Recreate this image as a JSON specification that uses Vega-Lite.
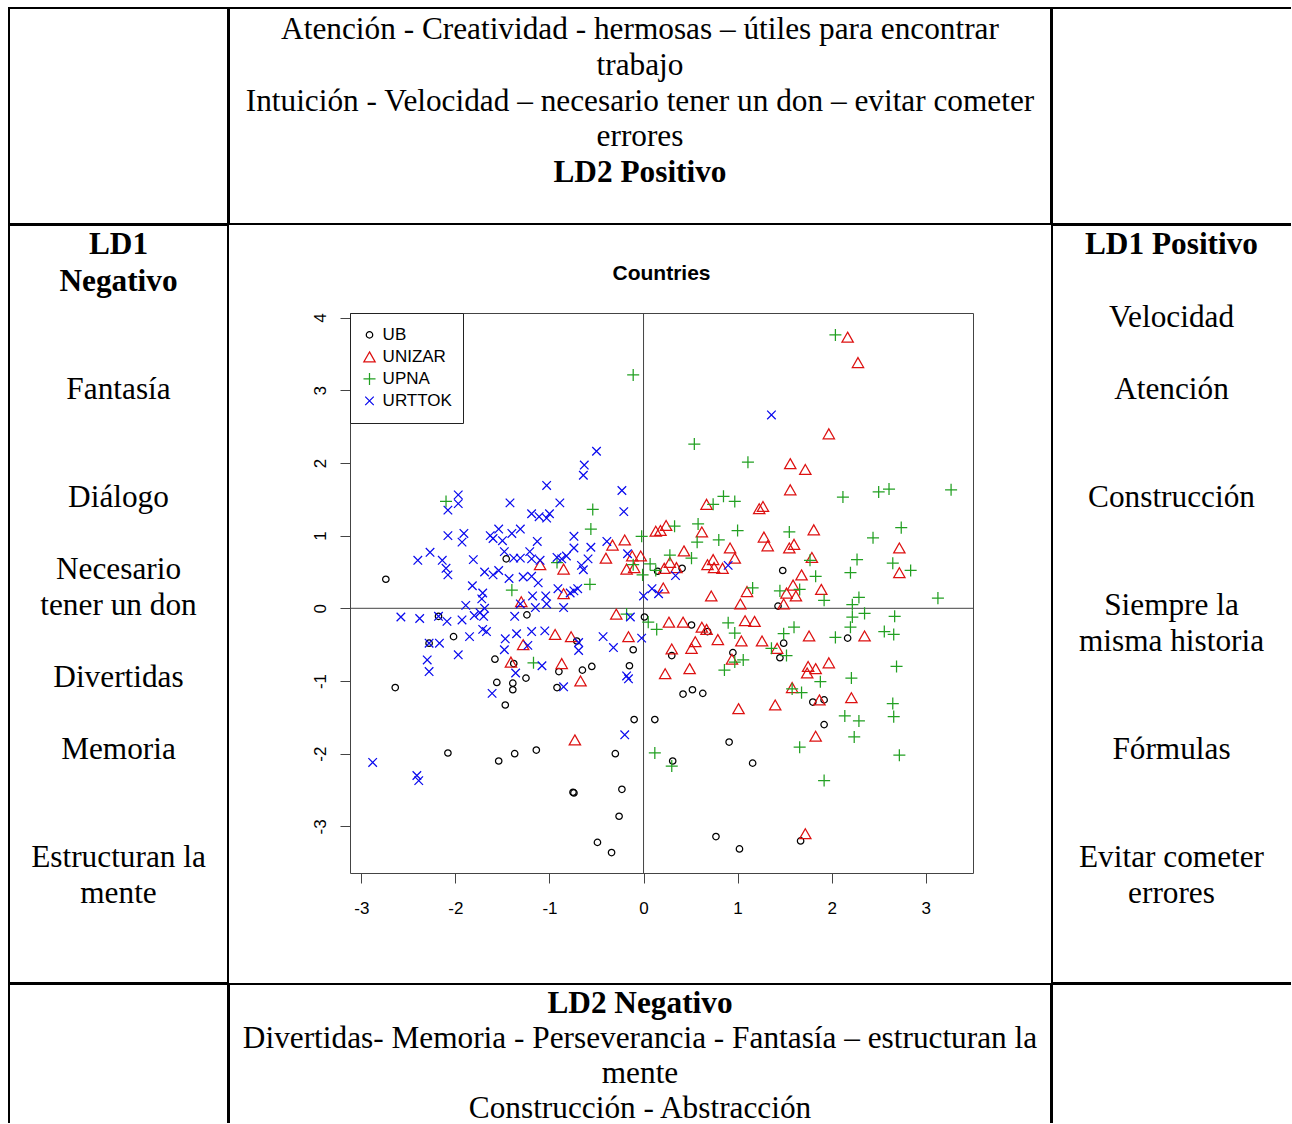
{
"$schema": "https://vega.github.io/schema/vega-lite/v6.json",
"background": "white",
"padding": {"left": 8, "top": 7, "right": 0, "bottom": 0},
"config": {"font": "Liberation Sans", "view": {"stroke": null}},
"datasets": {
"topText": [
{"line":0,"text":"Atención - Creatividad - hermosas – útiles para encontrar","kind":"body"},
{"line":1,"text":"trabajo","kind":"body"},
{"line":2,"text":"Intuición - Velocidad – necesario tener un don – evitar cometer","kind":"body"},
{"line":3,"text":"errores","kind":"body"},
{"line":4,"text":"LD2 Positivo","kind":"heading"}],
"leftText": [
{"line":0,"text":"LD1","kind":"heading"},
{"line":1,"text":"Negativo","kind":"heading"},
{"line":4,"text":"Fantasía","kind":"body"},
{"line":7,"text":"Diálogo","kind":"body"},
{"line":9,"text":"Necesario","kind":"body"},
{"line":10,"text":"tener un don","kind":"body"},
{"line":12,"text":"Divertidas","kind":"body"},
{"line":14,"text":"Memoria","kind":"body"},
{"line":17,"text":"Estructuran la","kind":"body"},
{"line":18,"text":"mente","kind":"body"}],
"rightText": [
{"line":0,"text":"LD1 Positivo","kind":"heading"},
{"line":2,"text":"Velocidad","kind":"body"},
{"line":4,"text":"Atención","kind":"body"},
{"line":7,"text":"Construcción","kind":"body"},
{"line":10,"text":"Siempre la","kind":"body"},
{"line":11,"text":"misma historia","kind":"body"},
{"line":14,"text":"Fórmulas","kind":"body"},
{"line":17,"text":"Evitar cometer","kind":"body"},
{"line":18,"text":"errores","kind":"body"}],
"bottomText": [
{"line":0,"text":"LD2 Negativo","kind":"heading"},
{"line":1,"text":"Divertidas- Memoria - Perseverancia - Fantasía – estructuran la","kind":"body"},
{"line":2,"text":"mente","kind":"body"},
{"line":3,"text":"Construcción - Abstracción","kind":"body"}],
"points": [
{"Country":"UB","LD1":-1.46,"LD2":0.68},{"Country":"UB","LD1":-2.74,"LD2":0.40},{"Country":"UB","LD1":-2.18,"LD2":-0.11},{"Country":"UB","LD1":-1.24,"LD2":-0.09},
{"Country":"UB","LD1":-2.02,"LD2":-0.39},{"Country":"UB","LD1":-2.28,"LD2":-0.48},{"Country":"UB","LD1":-1.58,"LD2":-0.70},{"Country":"UB","LD1":-1.38,"LD2":-0.76},
{"Country":"UB","LD1":-1.25,"LD2":-0.96},{"Country":"UB","LD1":-1.56,"LD2":-1.02},{"Country":"UB","LD1":-1.39,"LD2":-1.03},{"Country":"UB","LD1":0.15,"LD2":0.51},
{"Country":"UB","LD1":0.41,"LD2":0.55},{"Country":"UB","LD1":0.01,"LD2":-0.12},{"Country":"UB","LD1":0.51,"LD2":-0.23},{"Country":"UB","LD1":0.68,"LD2":-0.32},
{"Country":"UB","LD1":-0.71,"LD2":-0.45},{"Country":"UB","LD1":-0.11,"LD2":-0.57},{"Country":"UB","LD1":0.30,"LD2":-0.65},{"Country":"UB","LD1":0.95,"LD2":-0.61},
{"Country":"UB","LD1":-0.90,"LD2":-0.87},{"Country":"UB","LD1":-0.65,"LD2":-0.85},{"Country":"UB","LD1":-0.55,"LD2":-0.80},{"Country":"UB","LD1":-0.15,"LD2":-0.79},
{"Country":"UB","LD1":1.48,"LD2":0.52},{"Country":"UB","LD1":1.43,"LD2":0.03},{"Country":"UB","LD1":2.17,"LD2":-0.41},{"Country":"UB","LD1":1.49,"LD2":-0.48},
{"Country":"UB","LD1":1.45,"LD2":-0.68},{"Country":"UB","LD1":-2.64,"LD2":-1.09},{"Country":"UB","LD1":-1.39,"LD2":-1.12},{"Country":"UB","LD1":-1.47,"LD2":-1.33},
{"Country":"UB","LD1":-2.08,"LD2":-1.99},{"Country":"UB","LD1":-1.54,"LD2":-2.10},{"Country":"UB","LD1":-1.37,"LD2":-2.00},{"Country":"UB","LD1":-1.14,"LD2":-1.95},
{"Country":"UB","LD1":-0.92,"LD2":-1.09},{"Country":"UB","LD1":0.42,"LD2":-1.18},{"Country":"UB","LD1":0.52,"LD2":-1.12},{"Country":"UB","LD1":0.63,"LD2":-1.17},
{"Country":"UB","LD1":-0.10,"LD2":-1.53},{"Country":"UB","LD1":0.12,"LD2":-1.53},{"Country":"UB","LD1":-0.30,"LD2":-2.00},{"Country":"UB","LD1":0.31,"LD2":-2.10},
{"Country":"UB","LD1":0.91,"LD2":-1.84},{"Country":"UB","LD1":1.16,"LD2":-2.13},{"Country":"UB","LD1":-0.75,"LD2":-2.53},{"Country":"UB","LD1":-0.74,"LD2":-2.54},
{"Country":"UB","LD1":-0.23,"LD2":-2.49},{"Country":"UB","LD1":-0.26,"LD2":-2.86},{"Country":"UB","LD1":-0.49,"LD2":-3.22},{"Country":"UB","LD1":-0.34,"LD2":-3.36},
{"Country":"UB","LD1":0.77,"LD2":-3.14},{"Country":"UB","LD1":1.02,"LD2":-3.31},{"Country":"UB","LD1":1.80,"LD2":-1.29},{"Country":"UB","LD1":1.92,"LD2":-1.26},
{"Country":"UB","LD1":1.92,"LD2":-1.60},{"Country":"UB","LD1":1.67,"LD2":-3.20},
{"Country":"UNIZAR","LD1":2.17,"LD2":3.73},{"Country":"UNIZAR","LD1":2.28,"LD2":3.38},{"Country":"UNIZAR","LD1":1.97,"LD2":2.40},{"Country":"UNIZAR","LD1":1.56,"LD2":1.99},
{"Country":"UNIZAR","LD1":1.72,"LD2":1.91},{"Country":"UNIZAR","LD1":1.56,"LD2":1.63},{"Country":"UNIZAR","LD1":-1.10,"LD2":0.60},{"Country":"UNIZAR","LD1":-1.30,"LD2":0.09},
{"Country":"UNIZAR","LD1":-0.94,"LD2":-0.36},{"Country":"UNIZAR","LD1":-1.28,"LD2":-0.50},{"Country":"UNIZAR","LD1":-1.41,"LD2":-0.74},{"Country":"UNIZAR","LD1":0.67,"LD2":1.43},
{"Country":"UNIZAR","LD1":1.23,"LD2":1.37},{"Country":"UNIZAR","LD1":-0.33,"LD2":0.87},{"Country":"UNIZAR","LD1":-0.20,"LD2":0.94},{"Country":"UNIZAR","LD1":0.13,"LD2":1.06},
{"Country":"UNIZAR","LD1":0.18,"LD2":1.07},{"Country":"UNIZAR","LD1":0.24,"LD2":1.14},{"Country":"UNIZAR","LD1":0.62,"LD2":1.05},{"Country":"UNIZAR","LD1":0.92,"LD2":0.83},
{"Country":"UNIZAR","LD1":0.97,"LD2":0.69},{"Country":"UNIZAR","LD1":-0.85,"LD2":0.54},{"Country":"UNIZAR","LD1":-0.40,"LD2":0.69},{"Country":"UNIZAR","LD1":-0.18,"LD2":0.54},
{"Country":"UNIZAR","LD1":-0.12,"LD2":0.72},{"Country":"UNIZAR","LD1":-0.03,"LD2":0.72},{"Country":"UNIZAR","LD1":-0.10,"LD2":0.56},{"Country":"UNIZAR","LD1":0.22,"LD2":0.55},
{"Country":"UNIZAR","LD1":0.28,"LD2":0.63},{"Country":"UNIZAR","LD1":0.35,"LD2":0.56},{"Country":"UNIZAR","LD1":0.43,"LD2":0.79},{"Country":"UNIZAR","LD1":0.68,"LD2":0.60},
{"Country":"UNIZAR","LD1":0.74,"LD2":0.67},{"Country":"UNIZAR","LD1":0.75,"LD2":0.56},{"Country":"UNIZAR","LD1":0.84,"LD2":0.55},{"Country":"UNIZAR","LD1":-0.85,"LD2":0.20},
{"Country":"UNIZAR","LD1":0.21,"LD2":0.28},{"Country":"UNIZAR","LD1":0.72,"LD2":0.17},{"Country":"UNIZAR","LD1":1.03,"LD2":0.06},{"Country":"UNIZAR","LD1":1.10,"LD2":0.23},
{"Country":"UNIZAR","LD1":-0.29,"LD2":-0.08},{"Country":"UNIZAR","LD1":0.27,"LD2":-0.19},{"Country":"UNIZAR","LD1":0.42,"LD2":-0.19},{"Country":"UNIZAR","LD1":0.62,"LD2":-0.26},
{"Country":"UNIZAR","LD1":0.67,"LD2":-0.29},{"Country":"UNIZAR","LD1":1.08,"LD2":-0.17},{"Country":"UNIZAR","LD1":1.18,"LD2":-0.18},{"Country":"UNIZAR","LD1":0.79,"LD2":-0.43},
{"Country":"UNIZAR","LD1":0.55,"LD2":-0.46},{"Country":"UNIZAR","LD1":0.51,"LD2":-0.55},{"Country":"UNIZAR","LD1":1.04,"LD2":-0.45},{"Country":"UNIZAR","LD1":1.26,"LD2":-0.45},
{"Country":"UNIZAR","LD1":-0.16,"LD2":-0.39},{"Country":"UNIZAR","LD1":-0.77,"LD2":-0.39},{"Country":"UNIZAR","LD1":0.30,"LD2":-0.56},{"Country":"UNIZAR","LD1":0.94,"LD2":-0.70},
{"Country":"UNIZAR","LD1":0.49,"LD2":-0.83},{"Country":"UNIZAR","LD1":0.23,"LD2":-0.90},{"Country":"UNIZAR","LD1":-0.87,"LD2":-0.76},{"Country":"UNIZAR","LD1":-0.67,"LD2":-1.00},
{"Country":"UNIZAR","LD1":1.27,"LD2":1.40},{"Country":"UNIZAR","LD1":1.81,"LD2":1.08},{"Country":"UNIZAR","LD1":1.28,"LD2":0.98},{"Country":"UNIZAR","LD1":1.32,"LD2":0.86},
{"Country":"UNIZAR","LD1":1.55,"LD2":0.83},{"Country":"UNIZAR","LD1":1.60,"LD2":0.88},{"Country":"UNIZAR","LD1":2.72,"LD2":0.83},{"Country":"UNIZAR","LD1":1.79,"LD2":0.70},
{"Country":"UNIZAR","LD1":2.72,"LD2":0.49},{"Country":"UNIZAR","LD1":1.68,"LD2":0.46},{"Country":"UNIZAR","LD1":1.59,"LD2":0.32},{"Country":"UNIZAR","LD1":1.89,"LD2":0.26},
{"Country":"UNIZAR","LD1":1.52,"LD2":0.21},{"Country":"UNIZAR","LD1":1.62,"LD2":0.17},{"Country":"UNIZAR","LD1":1.49,"LD2":0.06},{"Country":"UNIZAR","LD1":1.76,"LD2":-0.38},
{"Country":"UNIZAR","LD1":2.35,"LD2":-0.38},{"Country":"UNIZAR","LD1":1.42,"LD2":-0.55},{"Country":"UNIZAR","LD1":1.97,"LD2":-0.75},{"Country":"UNIZAR","LD1":1.75,"LD2":-0.80},
{"Country":"UNIZAR","LD1":1.83,"LD2":-0.83},{"Country":"UNIZAR","LD1":1.74,"LD2":-0.89},{"Country":"UNIZAR","LD1":1.01,"LD2":-1.38},{"Country":"UNIZAR","LD1":-0.73,"LD2":-1.81},
{"Country":"UNIZAR","LD1":1.58,"LD2":-1.09},{"Country":"UNIZAR","LD1":1.40,"LD2":-1.33},{"Country":"UNIZAR","LD1":1.87,"LD2":-1.26},{"Country":"UNIZAR","LD1":2.21,"LD2":-1.23},
{"Country":"UNIZAR","LD1":1.83,"LD2":-1.76},{"Country":"UNIZAR","LD1":1.72,"LD2":-3.10},
{"Country":"UPNA","LD1":-0.11,"LD2":3.21},{"Country":"UPNA","LD1":0.54,"LD2":2.26},{"Country":"UPNA","LD1":1.11,"LD2":2.01},{"Country":"UPNA","LD1":0.85,"LD2":1.54},
{"Country":"UPNA","LD1":2.04,"LD2":3.76},{"Country":"UPNA","LD1":2.12,"LD2":1.53},{"Country":"UPNA","LD1":2.50,"LD2":1.60},{"Country":"UPNA","LD1":2.61,"LD2":1.64},
{"Country":"UPNA","LD1":3.27,"LD2":1.63},{"Country":"UPNA","LD1":-2.10,"LD2":1.47},{"Country":"UPNA","LD1":-1.40,"LD2":0.25},{"Country":"UPNA","LD1":-1.17,"LD2":-0.75},
{"Country":"UPNA","LD1":-0.54,"LD2":1.36},{"Country":"UPNA","LD1":0.74,"LD2":1.43},{"Country":"UPNA","LD1":0.97,"LD2":1.47},{"Country":"UPNA","LD1":-0.56,"LD2":1.09},
{"Country":"UPNA","LD1":-0.02,"LD2":0.99},{"Country":"UPNA","LD1":0.33,"LD2":1.13},{"Country":"UPNA","LD1":0.58,"LD2":1.16},{"Country":"UPNA","LD1":0.57,"LD2":0.91},
{"Country":"UPNA","LD1":0.80,"LD2":0.94},{"Country":"UPNA","LD1":1.00,"LD2":1.07},{"Country":"UPNA","LD1":-0.92,"LD2":0.63},{"Country":"UPNA","LD1":-0.11,"LD2":0.60},
{"Country":"UPNA","LD1":-0.01,"LD2":0.46},{"Country":"UPNA","LD1":0.07,"LD2":0.61},{"Country":"UPNA","LD1":0.13,"LD2":0.52},{"Country":"UPNA","LD1":0.28,"LD2":0.73},
{"Country":"UPNA","LD1":0.51,"LD2":0.69},{"Country":"UPNA","LD1":-0.57,"LD2":0.33},{"Country":"UPNA","LD1":1.16,"LD2":0.28},{"Country":"UPNA","LD1":-0.18,"LD2":-0.08},
{"Country":"UPNA","LD1":0.05,"LD2":-0.19},{"Country":"UPNA","LD1":0.14,"LD2":-0.29},{"Country":"UPNA","LD1":0.90,"LD2":-0.20},{"Country":"UPNA","LD1":0.97,"LD2":-0.34},
{"Country":"UPNA","LD1":0.97,"LD2":-0.74},{"Country":"UPNA","LD1":1.06,"LD2":-0.71},{"Country":"UPNA","LD1":0.86,"LD2":-0.85},{"Country":"UPNA","LD1":1.55,"LD2":1.05},
{"Country":"UPNA","LD1":2.74,"LD2":1.11},{"Country":"UPNA","LD1":2.44,"LD2":0.97},{"Country":"UPNA","LD1":1.77,"LD2":0.66},{"Country":"UPNA","LD1":2.27,"LD2":0.67},
{"Country":"UPNA","LD1":2.65,"LD2":0.62},{"Country":"UPNA","LD1":2.84,"LD2":0.52},{"Country":"UPNA","LD1":1.83,"LD2":0.44},{"Country":"UPNA","LD1":2.20,"LD2":0.49},
{"Country":"UPNA","LD1":1.66,"LD2":0.26},{"Country":"UPNA","LD1":1.45,"LD2":0.24},{"Country":"UPNA","LD1":1.92,"LD2":0.11},{"Country":"UPNA","LD1":2.29,"LD2":0.15},
{"Country":"UPNA","LD1":2.22,"LD2":0.05},{"Country":"UPNA","LD1":3.13,"LD2":0.14},{"Country":"UPNA","LD1":2.35,"LD2":-0.07},{"Country":"UPNA","LD1":2.22,"LD2":-0.12},
{"Country":"UPNA","LD1":2.67,"LD2":-0.11},{"Country":"UPNA","LD1":1.60,"LD2":-0.26},{"Country":"UPNA","LD1":2.20,"LD2":-0.26},{"Country":"UPNA","LD1":1.49,"LD2":-0.35},
{"Country":"UPNA","LD1":2.04,"LD2":-0.40},{"Country":"UPNA","LD1":2.56,"LD2":-0.32},{"Country":"UPNA","LD1":2.66,"LD2":-0.36},{"Country":"UPNA","LD1":1.36,"LD2":-0.55},
{"Country":"UPNA","LD1":1.52,"LD2":-0.65},{"Country":"UPNA","LD1":2.69,"LD2":-0.80},{"Country":"UPNA","LD1":2.21,"LD2":-0.96},{"Country":"UPNA","LD1":1.88,"LD2":-1.01},
{"Country":"UPNA","LD1":0.12,"LD2":-1.99},{"Country":"UPNA","LD1":0.30,"LD2":-2.17},{"Country":"UPNA","LD1":1.58,"LD2":-1.11},{"Country":"UPNA","LD1":1.68,"LD2":-1.16},
{"Country":"UPNA","LD1":2.65,"LD2":-1.31},{"Country":"UPNA","LD1":2.66,"LD2":-1.49},{"Country":"UPNA","LD1":2.14,"LD2":-1.48},{"Country":"UPNA","LD1":2.29,"LD2":-1.55},
{"Country":"UPNA","LD1":2.24,"LD2":-1.77},{"Country":"UPNA","LD1":1.66,"LD2":-1.91},{"Country":"UPNA","LD1":2.72,"LD2":-2.02},{"Country":"UPNA","LD1":1.92,"LD2":-2.37},
{"Country":"URTTOK","LD1":-1.03,"LD2":1.69},{"Country":"URTTOK","LD1":-1.97,"LD2":1.56},{"Country":"URTTOK","LD1":-0.50,"LD2":2.16},{"Country":"URTTOK","LD1":-0.63,"LD2":1.97},
{"Country":"URTTOK","LD1":-0.64,"LD2":1.83},{"Country":"URTTOK","LD1":-0.23,"LD2":1.62},{"Country":"URTTOK","LD1":1.36,"LD2":2.66},{"Country":"URTTOK","LD1":-1.97,"LD2":1.44},
{"Country":"URTTOK","LD1":-2.08,"LD2":1.35},{"Country":"URTTOK","LD1":-1.42,"LD2":1.45},{"Country":"URTTOK","LD1":-1.19,"LD2":1.30},{"Country":"URTTOK","LD1":-1.11,"LD2":1.26},
{"Country":"URTTOK","LD1":-1.03,"LD2":1.24},{"Country":"URTTOK","LD1":-1.00,"LD2":1.30},{"Country":"URTTOK","LD1":-2.08,"LD2":1.00},{"Country":"URTTOK","LD1":-1.91,"LD2":1.03},
{"Country":"URTTOK","LD1":-1.93,"LD2":0.91},{"Country":"URTTOK","LD1":-1.63,"LD2":1.00},{"Country":"URTTOK","LD1":-1.60,"LD2":0.96},{"Country":"URTTOK","LD1":-1.54,"LD2":1.09},
{"Country":"URTTOK","LD1":-1.50,"LD2":0.93},{"Country":"URTTOK","LD1":-1.40,"LD2":1.03},{"Country":"URTTOK","LD1":-1.31,"LD2":1.09},{"Country":"URTTOK","LD1":-1.13,"LD2":0.92},
{"Country":"URTTOK","LD1":-2.40,"LD2":0.66},{"Country":"URTTOK","LD1":-2.27,"LD2":0.77},{"Country":"URTTOK","LD1":-2.14,"LD2":0.66},{"Country":"URTTOK","LD1":-2.10,"LD2":0.55},
{"Country":"URTTOK","LD1":-2.08,"LD2":0.46},{"Country":"URTTOK","LD1":-1.81,"LD2":0.67},{"Country":"URTTOK","LD1":-1.48,"LD2":0.78},{"Country":"URTTOK","LD1":-1.38,"LD2":0.69},
{"Country":"URTTOK","LD1":-1.31,"LD2":0.69},{"Country":"URTTOK","LD1":-1.21,"LD2":0.78},{"Country":"URTTOK","LD1":-1.19,"LD2":0.68},{"Country":"URTTOK","LD1":-1.10,"LD2":0.66},
{"Country":"URTTOK","LD1":-1.69,"LD2":0.50},{"Country":"URTTOK","LD1":-1.60,"LD2":0.46},{"Country":"URTTOK","LD1":-1.54,"LD2":0.52},{"Country":"URTTOK","LD1":-1.43,"LD2":0.41},
{"Country":"URTTOK","LD1":-1.28,"LD2":0.43},{"Country":"URTTOK","LD1":-1.19,"LD2":0.44},{"Country":"URTTOK","LD1":-1.12,"LD2":0.35},{"Country":"URTTOK","LD1":-1.82,"LD2":0.31},
{"Country":"URTTOK","LD1":-1.71,"LD2":0.21},{"Country":"URTTOK","LD1":-1.72,"LD2":0.13},{"Country":"URTTOK","LD1":-1.31,"LD2":0.06},{"Country":"URTTOK","LD1":-1.18,"LD2":0.17},
{"Country":"URTTOK","LD1":-1.04,"LD2":0.17},{"Country":"URTTOK","LD1":-1.03,"LD2":0.06},{"Country":"URTTOK","LD1":-1.15,"LD2":0.01},{"Country":"URTTOK","LD1":-1.89,"LD2":0.04},
{"Country":"URTTOK","LD1":-1.80,"LD2":-0.10},{"Country":"URTTOK","LD1":-1.74,"LD2":-0.06},{"Country":"URTTOK","LD1":-1.69,"LD2":0.00},{"Country":"URTTOK","LD1":-1.70,"LD2":-0.11},
{"Country":"URTTOK","LD1":-2.58,"LD2":-0.12},{"Country":"URTTOK","LD1":-2.38,"LD2":-0.14},{"Country":"URTTOK","LD1":-2.18,"LD2":-0.11},{"Country":"URTTOK","LD1":-2.09,"LD2":-0.18},
{"Country":"URTTOK","LD1":-1.93,"LD2":-0.16},{"Country":"URTTOK","LD1":-1.37,"LD2":-0.11},{"Country":"URTTOK","LD1":-1.85,"LD2":-0.39},{"Country":"URTTOK","LD1":-1.71,"LD2":-0.29},
{"Country":"URTTOK","LD1":-1.67,"LD2":-0.32},{"Country":"URTTOK","LD1":-1.35,"LD2":-0.35},{"Country":"URTTOK","LD1":-1.19,"LD2":-0.32},{"Country":"URTTOK","LD1":-1.05,"LD2":-0.31},
{"Country":"URTTOK","LD1":-2.28,"LD2":-0.48},{"Country":"URTTOK","LD1":-2.17,"LD2":-0.48},{"Country":"URTTOK","LD1":-1.47,"LD2":-0.42},{"Country":"URTTOK","LD1":-1.48,"LD2":-0.57},
{"Country":"URTTOK","LD1":-1.23,"LD2":-0.51},{"Country":"URTTOK","LD1":-1.97,"LD2":-0.64},{"Country":"URTTOK","LD1":-1.08,"LD2":-0.79},{"Country":"URTTOK","LD1":-2.30,"LD2":-0.71},
{"Country":"URTTOK","LD1":-2.28,"LD2":-0.87},{"Country":"URTTOK","LD1":-1.36,"LD2":-0.89},{"Country":"URTTOK","LD1":-0.89,"LD2":1.45},{"Country":"URTTOK","LD1":-0.21,"LD2":1.33},
{"Country":"URTTOK","LD1":-0.74,"LD2":0.99},{"Country":"URTTOK","LD1":-0.74,"LD2":0.83},{"Country":"URTTOK","LD1":-0.56,"LD2":0.84},{"Country":"URTTOK","LD1":-0.39,"LD2":0.92},
{"Country":"URTTOK","LD1":-0.92,"LD2":0.70},{"Country":"URTTOK","LD1":-0.87,"LD2":0.68},{"Country":"URTTOK","LD1":-0.82,"LD2":0.72},{"Country":"URTTOK","LD1":-0.59,"LD2":0.68},
{"Country":"URTTOK","LD1":-0.66,"LD2":0.59},{"Country":"URTTOK","LD1":-0.64,"LD2":0.53},{"Country":"URTTOK","LD1":-0.17,"LD2":0.75},{"Country":"URTTOK","LD1":0.34,"LD2":0.45},
{"Country":"URTTOK","LD1":0.90,"LD2":0.59},{"Country":"URTTOK","LD1":-0.91,"LD2":0.27},{"Country":"URTTOK","LD1":-0.78,"LD2":0.21},{"Country":"URTTOK","LD1":-0.74,"LD2":0.24},
{"Country":"URTTOK","LD1":-0.70,"LD2":0.27},{"Country":"URTTOK","LD1":-0.85,"LD2":0.01},{"Country":"URTTOK","LD1":0.00,"LD2":0.17},{"Country":"URTTOK","LD1":0.09,"LD2":0.27},
{"Country":"URTTOK","LD1":0.16,"LD2":0.20},{"Country":"URTTOK","LD1":-0.14,"LD2":-0.12},{"Country":"URTTOK","LD1":-0.43,"LD2":-0.39},{"Country":"URTTOK","LD1":-0.32,"LD2":-0.54},
{"Country":"URTTOK","LD1":-0.02,"LD2":-0.41},{"Country":"URTTOK","LD1":-0.69,"LD2":-0.47},{"Country":"URTTOK","LD1":-0.69,"LD2":-0.58},{"Country":"URTTOK","LD1":-0.18,"LD2":-0.93},
{"Country":"URTTOK","LD1":-0.16,"LD2":-0.97},{"Country":"URTTOK","LD1":-1.61,"LD2":-1.17},{"Country":"URTTOK","LD1":-2.88,"LD2":-2.12},{"Country":"URTTOK","LD1":-2.41,"LD2":-2.30},
{"Country":"URTTOK","LD1":-2.39,"LD2":-2.37},{"Country":"URTTOK","LD1":-0.85,"LD2":-1.08},{"Country":"URTTOK","LD1":-0.20,"LD2":-1.74}
]
},
"spacing": -4,
"resolve": {"scale": {"color": "independent", "shape": "independent"}, "legend": {"color": "independent", "shape": "independent"}},
"vconcat": [
{"hconcat": [
 {"width": 219, "height": 216, "data": {"values": []}, "mark": "text", "view": {"stroke": "black", "strokeWidth": 2}},
 {"width": 822, "height": 216, "view": {"stroke": "black", "strokeWidth": 2},
  "data": {"name": "topText"},
  "encoding": {"y": {"field": "line", "type": "quantitative", "scale": {"domain": [-0.866, 5.168], "reverse": true}, "axis": null}, "text": {"field": "text"}},
  "layer": [
   {"transform": [{"filter": "datum.kind === 'body'"}], "mark": {"type": "text", "font": "Liberation Serif", "fontSize": 31.3, "baseline": "alphabetic", "color": "black"}},
   {"transform": [{"filter": "datum.kind === 'heading'"}], "mark": {"type": "text", "font": "Liberation Serif", "fontSize": 31.3, "fontWeight": "bold", "baseline": "alphabetic", "color": "black"}}
  ]},
 {"width": 239, "height": 216, "data": {"values": []}, "mark": "text", "view": {"stroke": "black", "strokeWidth": 2, "strokeDash": [239, 216, 455]}}
], "spacing": -4},
{"hconcat": [
 {"width": 219, "height": 758, "view": {"stroke": "black", "strokeWidth": 2},
  "data": {"name": "leftText"},
  "encoding": {"y": {"field": "line", "type": "quantitative", "scale": {"domain": [-0.818, 20.208], "reverse": true}, "axis": null}, "text": {"field": "text"}},
  "layer": [
   {"transform": [{"filter": "datum.kind === 'body'"}], "mark": {"type": "text", "font": "Liberation Serif", "fontSize": 31.3, "baseline": "alphabetic", "color": "black"}},
   {"transform": [{"filter": "datum.kind === 'heading'"}], "mark": {"type": "text", "font": "Liberation Serif", "fontSize": 31.3, "fontWeight": "bold", "baseline": "alphabetic", "color": "black"}}
  ]},
 {"vconcat": [
   {"width": 823, "height": 37, "data": {"values": []}, "mark": "point"},
   {"hconcat": [
     {"width": 81, "height": 1, "data": {"values": []}, "mark": "point"},
     {"width": 623, "height": 560,
      "view": {"stroke": "#444444", "strokeWidth": 1},
      "title": {"text": "Countries", "font": "Liberation Sans", "fontSize": 21, "fontWeight": "bold", "color": "black", "anchor": "middle", "baseline": "alphabetic", "offset": 12, "frame": "group"},
      "layer": [
       {"data": {"values": [{}]}, "mark": {"type": "rule", "color": "#444444", "strokeWidth": 1},
        "encoding": {"x": {"datum": 0, "type": "quantitative", "scale": {"domain": [-3.121, 3.503], "nice": false, "zero": false},
          "axis": {"values": [-3,-2,-1,0,1,2,3], "title": null, "domain": false, "grid": false, "tickSize": 10, "tickColor": "#444444", "tickWidth": 1, "labelFont": "Liberation Sans", "labelFontSize": 17, "labelColor": "black", "labelPadding": 17, "labelFlush": false, "labelOverlap": false, "labelBaseline": "top", "labelExpr": "'' + datum.value"}}}},
       {"data": {"values": [{}]}, "mark": {"type": "rule", "color": "#444444", "strokeWidth": 1},
        "encoding": {"y": {"datum": 0, "type": "quantitative", "scale": {"domain": [-3.641, 4.062], "nice": false, "zero": false},
          "axis": {"values": [-3,-2,-1,0,1,2,3,4], "title": null, "domain": false, "grid": false, "tickSize": 10, "tickColor": "#444444", "tickWidth": 1, "labelFont": "Liberation Sans", "labelFontSize": 17, "labelColor": "black", "labelAngle": 270, "labelAlign": "center", "labelBaseline": "alphabetic", "labelPadding": 15, "labelFlush": false, "labelOverlap": false, "labelExpr": "'' + datum.value"}}}},
       {"data": {"name": "points"}, "mark": {"type": "point", "filled": false, "strokeWidth": 1.25, "opacity": 1},
        "encoding": {
         "x": {"field": "LD1", "type": "quantitative", "scale": {"domain": [-3.121, 3.503], "nice": false, "zero": false},
          "axis": {"values": [-3,-2,-1,0,1,2,3], "title": null, "domain": false, "grid": false, "tickSize": 10, "tickColor": "#444444", "tickWidth": 1, "labelFont": "Liberation Sans", "labelFontSize": 17, "labelColor": "black", "labelPadding": 17, "labelFlush": false, "labelOverlap": false, "labelBaseline": "top", "labelExpr": "'' + datum.value"}},
         "y": {"field": "LD2", "type": "quantitative", "scale": {"domain": [-3.641, 4.062], "nice": false, "zero": false},
          "axis": {"values": [-3,-2,-1,0,1,2,3,4], "title": null, "domain": false, "grid": false, "tickSize": 10, "tickColor": "#444444", "tickWidth": 1, "labelFont": "Liberation Sans", "labelFontSize": 17, "labelColor": "black", "labelAngle": 270, "labelAlign": "center", "labelBaseline": "alphabetic", "labelPadding": 15, "labelFlush": false, "labelOverlap": false, "labelExpr": "'' + datum.value"}},
         "color": {"field": "Country", "type": "nominal",
          "scale": {"domain": ["UB","UNIZAR","UPNA","URTTOK"], "range": ["#000000","#dd1111","#22a022","#0a0aee"]},
          "legend": {"title": null, "orient": "top-left", "offset": 0, "padding": 11, "strokeColor": "#222222", "fillColor": "white", "labelFont": "Liberation Sans", "labelFontSize": 17, "labelColor": "black", "labelOffset": 4.6, "rowPadding": 0, "clipHeight": 21.8, "symbolSize": 196, "symbolStrokeWidth": 1.25}},
         "shape": {"field": "Country", "type": "nominal",
          "scale": {"domain": ["UB","UNIZAR","UPNA","URTTOK"], "range": [
            "M0.46,0A0.46,0.46 0 1,1 -0.46,0A0.46,0.46 0 1,1 0.46,0Z",
            "M0,-0.71L0.81,0.71L-0.81,0.71Z",
            "M-0.86,0L0.86,0M0,-0.86L0,0.86",
            "M-0.61,-0.61L0.61,0.61M-0.61,0.61L0.61,-0.61"]}},
         "size": {"value": 196}
        }}
      ]}
   ], "spacing": 0, "resolve": {"scale": {"color": "independent", "shape": "independent"}, "legend": {"color": "independent", "shape": "independent"}}}
 ], "spacing": 0, "resolve": {"scale": {"color": "independent", "shape": "independent"}, "legend": {"color": "independent", "shape": "independent"}}},
 {"width": 239, "height": 758, "view": {"stroke": "black", "strokeWidth": 2, "strokeDash": [239, 758, 997]},
  "data": {"name": "rightText"},
  "encoding": {"y": {"field": "line", "type": "quantitative", "scale": {"domain": [-0.818, 20.208], "reverse": true}, "axis": null}, "text": {"field": "text"}},
  "layer": [
   {"transform": [{"filter": "datum.kind === 'body'"}], "mark": {"type": "text", "font": "Liberation Serif", "fontSize": 31.3, "baseline": "alphabetic", "color": "black"}},
   {"transform": [{"filter": "datum.kind === 'heading'"}], "mark": {"type": "text", "font": "Liberation Serif", "fontSize": 31.3, "fontWeight": "bold", "baseline": "alphabetic", "color": "black"}}
  ]}
], "spacing": -4, "resolve": {"scale": {"color": "independent", "shape": "independent"}, "legend": {"color": "independent", "shape": "independent"}}},
{"hconcat": [
 {"width": 219, "height": 139, "data": {"values": []}, "mark": "text", "view": {"stroke": "black", "strokeWidth": 2, "strokeDash": [358, 219, 139]}},
 {"width": 822, "height": 139, "view": {"stroke": "black", "strokeWidth": 2, "strokeDash": [961, 822, 139]},
  "data": {"name": "bottomText"},
  "encoding": {"y": {"field": "line", "type": "quantitative", "scale": {"domain": [-0.81, 3.139], "reverse": true}, "axis": null}, "text": {"field": "text"}},
  "layer": [
   {"transform": [{"filter": "datum.kind === 'body'"}], "mark": {"type": "text", "font": "Liberation Serif", "fontSize": 31.3, "baseline": "alphabetic", "color": "black"}},
   {"transform": [{"filter": "datum.kind === 'heading'"}], "mark": {"type": "text", "font": "Liberation Serif", "fontSize": 31.3, "fontWeight": "bold", "baseline": "alphabetic", "color": "black"}}
  ]},
 {"width": 239, "height": 139, "data": {"values": []}, "mark": "text", "view": {"stroke": "black", "strokeWidth": 2, "strokeDash": [239, 378, 139]}}
], "spacing": -4}
]
}
